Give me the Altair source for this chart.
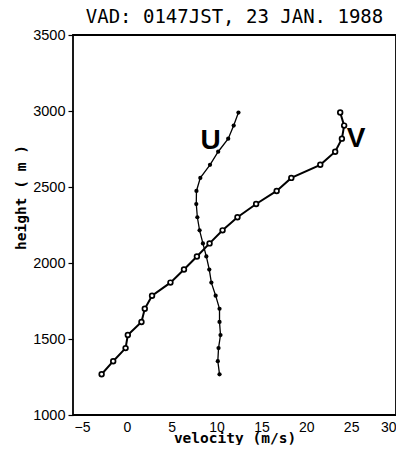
import altair as alt
import pandas as pd

heights = [1268, 1354, 1440, 1526, 1612, 1699, 1785, 1871, 1957, 2043, 2129,
           2215, 2301, 2388, 2474, 2560, 2646, 2732, 2818, 2904, 2990]
u_vals = [10.33, 10.14, 10.22, 10.44, 10.33, 10.33, 9.9, 9.42, 9.19, 8.86, 8.48,
          8.11, 7.86, 7.74, 7.76, 8.19, 9.27, 10.18, 11.3, 11.91, 12.44]
v_vals = [-2.81, -1.52, -0.14, 0.11, 1.63, 2.0, 2.81, 4.86, 6.37, 7.81, 9.22,
          10.67, 12.33, 14.41, 16.7, 18.33, 21.56, 23.22, 23.97, 24.22, 23.78]
x_ticks = [-5, 0, 5, 10, 15, 20, 25, 30]
y_ticks = [1000, 1500, 2000, 2500, 3000, 3500]
label_text = ["U", "V"]
label_x = [9.33, 25.56]
label_y = [2748, 2765]

df_u = pd.DataFrame({"h": heights, "vel": u_vals})
df_v = pd.DataFrame({"h": heights, "vel": v_vals})
df_lab = pd.DataFrame({"t": label_text, "vel": label_x, "h": label_y})

xs = alt.Scale(domain=[-6, 30], nice=False, zero=False)
ys = alt.Scale(domain=[1000, 3500], nice=False, zero=False)

x_enc = alt.X("vel:Q", scale=xs, axis=alt.Axis(
    values=x_ticks, format="d", title="velocity (m/s)", ticks=False, domain=False,
    grid=False, labelFlush=True,
    labelFont="Liberation Sans", labelFontSize=14, labelColor="black", labelPadding=5,
    titleFont="DejaVu Sans Mono", titleFontSize=14.5, titleFontWeight="bold",
    titleColor="black", titleY=27, titleBaseline="alphabetic"))
y_enc = alt.Y("h:Q", scale=ys, axis=alt.Axis(
    values=y_ticks, format="d", title="height ( m )", ticks=True, tickSize=5,
    tickWidth=1.2, tickColor="black", domain=False, grid=False, labelFlush=False,
    labelFont="Liberation Sans", labelFontSize=14.5, labelColor="black", labelPadding=3,
    titleFont="DejaVu Sans Mono", titleFontSize=14.5, titleFontWeight="bold",
    titleColor="black", titleX=-52, titleY=162, titleAngle=-90,
    titleAlign="center", titleBaseline="middle"))

u_line = alt.Chart(df_u).mark_line(color="black", strokeWidth=1.3).encode(
    x=x_enc, y=y_enc, order="h:Q")
u_pts = alt.Chart(df_u).mark_point(shape="circle", filled=True, color="black",
                                   size=18, opacity=1).encode(x="vel:Q", y="h:Q")
v_line = alt.Chart(df_v).mark_line(color="black", strokeWidth=2).encode(
    x="vel:Q", y="h:Q", order="h:Q")
v_pts = alt.Chart(df_v).mark_point(shape="circle", filled=False, fill="white",
                                   stroke="black", strokeWidth=1.7, size=22,
                                   opacity=1, fillOpacity=1).encode(x="vel:Q", y="h:Q")
labels = alt.Chart(df_lab).mark_text(font="Liberation Sans", fontSize=28,
                                     fontWeight="bold", color="black",
                                     align="center", baseline="alphabetic").encode(
    x="vel:Q", y="h:Q", text="t:N")

chart = alt.layer(u_line, u_pts, v_line, v_pts, labels).properties(
    width=388, height=437,
    title=alt.TitleParams("VAD: 0147JST, 23 JAN. 1988", font="DejaVu Sans Mono",
                          fontSize=19, fontWeight="normal", color="black",
                          anchor="middle", offset=0),
    padding={"left": 5, "top": 0, "right": 0, "bottom": 0},
    autosize=alt.AutoSizeParams(type="fit", contains="padding"),
    background="white",
).configure_view(stroke="black", strokeWidth=1.8)

chart.save("out.html", embed_options={"renderer": "svg", "actions": False})
